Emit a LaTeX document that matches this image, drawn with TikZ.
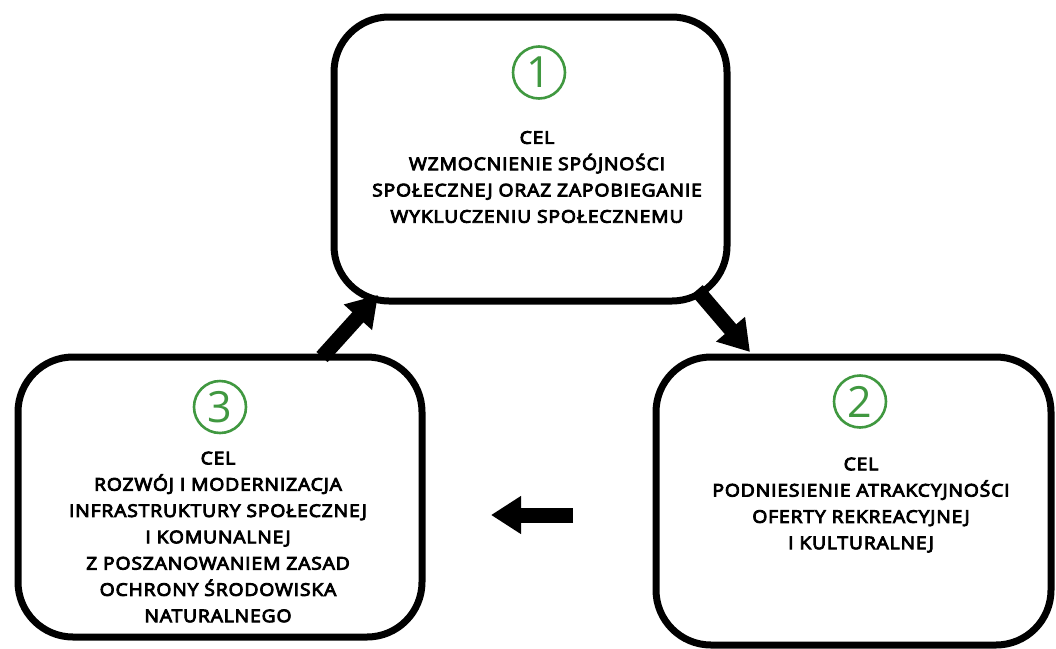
\documentclass[tikz,border=0pt]{standalone}
\usepackage{fontspec}
\setmainfont{Open Sans}
\newfontfamily\celfont{Open Sans}[FakeBold=5,FakeStretch=1.1,LetterSpace=5]
\usepackage{xcolor}
\usepackage{tikz}
\usetikzlibrary{arrows.meta,positioning,calc}
\definecolor{celgreen}{RGB}{64,152,64}

\tikzset{
goalbox/.style={rectangle,draw=black,fill=white,line width=7pt,
rounded corners=55pt,outer sep=0pt,inner sep=0pt},
numring/.style={circle,draw=celgreen,line width=2.6pt,minimum size=52pt,
inner sep=0pt,text=celgreen,font=\fontsize{43}{43}\selectfont},
goaltext/.style={align=center,inner sep=0pt,
font=\celfont\fontsize{17.5}{26.3}\selectfont},
bigarrow/.style={line width=15pt,-{Triangle[length=30pt,width=36pt]}}
}

\begin{document}
\begin{tikzpicture}
[x=1pt,y=-1pt]
\useasboundingbox (0,0) rectangle (1056,648);

\node (g1) at (530.5,159) [goalbox,minimum width=393pt,minimum height=284pt] {};
\node (g2) at (853.5,501) [goalbox,minimum width=395pt,minimum height=288pt] {};
\node (g3) at (220,497) [goalbox,minimum width=404pt,minimum height=280pt] {};

\node (n1) at (539,72.5) [numring] {1};
\node (n2) at (860,401.5) [numring] {2};
\node (n3) at (220,407) [numring] {3};

\node (t1) at (537,177) [goaltext] {CEL\\WZMOCNIENIE SPÓJNOŚCI\\SPOŁECZNEJ ORAZ ZAPOBIEGANIE\\WYKLUCZENIU SPOŁECZNEMU};
\node (t2) at (861,505) [goaltext] {CEL\\PODNIESIENIE ATRAKCYJNOŚCI\\OFERTY REKREACYJNEJ\\I KULTURALNEJ};
\node (t3) at (218,537) [goaltext] {CEL\\ROZWÓJ I MODERNIZACJA\\INFRASTRUKTURY SPOŁECZNEJ\\I KOMUNALNEJ\\Z POSZANOWANIEM ZASAD\\OCHRONY ŚRODOWISKA\\NATURALNEGO};

% cycle 1 -> 2 -> 3 -> 1
\draw[bigarrow] ([xshift=-30pt,yshift=11pt]g1.south east) -- ([xshift=94pt,yshift=5pt]g2.north west);
\draw[bigarrow] ([xshift=-83pt,yshift=-14pt]g2.west) -- ([xshift=69pt,yshift=-18pt]g3.east);
\draw[bigarrow] ([xshift=304pt]g3.north west) -- ([xshift=44pt,yshift=6pt]g1.south west);

\end{tikzpicture}
\end{document}
